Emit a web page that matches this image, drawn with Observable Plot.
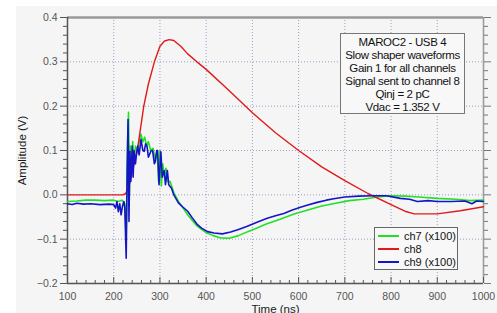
<!DOCTYPE html>
<html><head><meta charset="utf-8">
<script src="https://cdn.jsdelivr.net/npm/d3@7"></script>
<script src="https://cdn.jsdelivr.net/npm/@observablehq/plot@0.6"></script>
<style>
body{margin:0;background:#fff;}
#wrap{position:relative;width:497px;height:313px;overflow:hidden;background:linear-gradient(#f5f5f5,#f5f5f5) 16px 6px/481px 307px no-repeat,#fff;font-family:"Liberation Sans",Arial,sans-serif;}
#wrap svg{position:absolute;left:0;top:0;}
#wrap svg g[aria-label="y-axis label"], #wrap svg g[aria-label="x-axis label"]{fill:#1a1a1a;font-size:11.5px;}
.info{position:absolute;left:340px;top:33px;width:125px;height:81px;border:1px solid #777;background:#f8f8f8;font-size:11.5px;line-height:13px;text-align:center;color:#111;box-sizing:border-box;padding-top:2px;white-space:nowrap;letter-spacing:-0.35px;}
.legend{position:absolute;left:374px;top:227px;width:84px;height:43px;border:1px solid #666;background:#f8f8f8;font-size:11px;color:#111;box-sizing:border-box;padding-top:1px;white-space:nowrap;}
.legend .row{display:flex;align-items:center;height:13px;}
.legend .sw{width:21px;height:2px;margin-left:3px;margin-right:5px;flex:none;}
</style></head>
<body><div id="wrap"></div>
<script>
// ch8 (red)
const t8 = [100,220,226,233,240,251,258,265,275,288,300,310,320,330,345,360,380,400,450,500,550,600,650,700,750,800,830,850,900,950,1000];
const v8 = [0,0,0.003,0.02,0.05,0.1,0.15,0.2,0.25,0.3,0.335,0.347,0.35,0.348,0.335,0.318,0.3,0.283,0.235,0.185,0.14,0.1,0.063,0.032,0.003,-0.022,-0.037,-0.043,-0.043,-0.036,-0.027];
// ch7 (x100, green)
const t7 = [100,120,140,160,180,200,210,218,224,227,230,232,234,236,238,241,244,247,251,255,259,263,267,271,275,280,285,290,294,297,300,303,306,310,313,317,322,330,340,350,360,370,380,390,400,415,430,450,470,490,510,530,560,590,620,650,680,710,740,770,800,830,860,900,940,970,1000];
const v7 = [-0.015,-0.014,-0.012,-0.012,-0.013,-0.012,-0.015,-0.012,-0.02,-0.1,0.12,0.186,0.0,0.11,0.04,0.12,0.07,0.11,0.1,0.12,0.137,0.12,0.13,0.11,0.12,0.1,0.105,0.08,0.1,0.03,0.1,0.02,0.07,0.04,0.06,0.03,0.03,0.005,-0.015,-0.03,-0.045,-0.058,-0.07,-0.078,-0.085,-0.092,-0.097,-0.098,-0.092,-0.083,-0.075,-0.066,-0.055,-0.043,-0.034,-0.025,-0.019,-0.013,-0.01,-0.005,-0.002,-0.003,-0.005,-0.008,-0.01,-0.013,-0.012];
// ch9 (x100, blue)
const t9 = [100,110,120,135,150,170,190,200,204,207,210,213,216,219,222,224,227,229,231,233,235,237,240,242,244,247,249,252,255,259,263,266,269,272,275,277,281,284,288,290,293,295,298,302,305,309,312,316,319,325,330,340,350,360,370,380,390,403,417,435,453,470,489,510,532,550,568,585,604,620,640,660,676,700,730,760,790,820,840,857,880,900,930,960,975,985,1000];
const v9 = [-0.02,-0.022,-0.019,-0.021,-0.02,-0.022,-0.021,-0.022,-0.03,-0.015,-0.038,-0.02,-0.045,-0.025,-0.015,-0.03,-0.143,0.05,0.17,-0.06,0.098,0.03,0.11,0.04,0.1,0.07,0.09,0.11,0.09,0.125,0.1,0.098,0.115,0.11,0.085,0.09,0.1,0.1,0.07,0.075,0.1,0.1,0.023,0.097,0.04,0.055,0.023,0.055,0.023,0.015,0.0,-0.018,-0.028,-0.037,-0.052,-0.066,-0.075,-0.083,-0.086,-0.088,-0.084,-0.078,-0.071,-0.062,-0.053,-0.047,-0.042,-0.035,-0.028,-0.023,-0.017,-0.012,-0.009,-0.005,-0.003,-0.002,-0.002,-0.008,-0.01,-0.015,-0.013,-0.015,-0.015,-0.014,-0.02,-0.014,-0.015];

const xTicks = [100,200,300,400,500,600,700,800,900,1000];
const yTicks = [-0.2,-0.1,0.0,0.1,0.2,0.3,0.4];
const xMinor = d3.range(100,1001,20).filter(v => v % 100 !== 0);
const yMinor = d3.range(-10,21,1).map(v => v/50).filter(v => Math.round(v*50) % 5 !== 0);
const seriesNames = ["ch7 (x100)","ch8","ch9 (x100)"];
const seriesColors = ["#22e022","#e01a1a","#1515c8"];
const infoLines = ["MAROC2 - USB 4","Slow shaper waveforms","Gain 1 for all channels","Signal sent to channel 8","Qinj = 2 pC","Vdac = 1.352 V"];

const d7 = t7.map((t,i)=>({t, v:v7[i]}));
const d8 = t8.map((t,i)=>({t, v:v8[i]}));
const d9 = t9.map((t,i)=>({t, v:v9[i]}));

const chart = Plot.plot({
  width: 497, height: 313,
  marginLeft: 67, marginRight: 14, marginTop: 17, marginBottom: 30,
  style: {background: "transparent", fontFamily: "Liberation Sans, Arial, sans-serif", fontSize: "10.5px", overflow: "visible"},
  x: {domain: [100,1000]},
  y: {domain: [-0.2,0.4]},
  marks: [
    Plot.gridX(xTicks.slice(1,-1), {stroke: "#8888bb", strokeOpacity: 0.8, strokeDasharray: "1,2"}),
    Plot.gridY(yTicks.slice(1,-1), {stroke: "#8888bb", strokeOpacity: 0.8, strokeDasharray: "1,2"}),
    Plot.ruleY([0.4], {stroke: "#999", strokeWidth: 2.5}),
    Plot.ruleX([1000], {stroke: "#999", strokeWidth: 1.5}),
    Plot.ruleX([100], {stroke: "#555", strokeWidth: 1.5}),
    Plot.ruleY([-0.2], {stroke: "#555", strokeWidth: 1.5}),
    Plot.axisY(yTicks, {anchor: "left", tickSize: 7, tickPadding: 3, stroke: "#555", fill: "#555", tickFormat: d3.format(".1f"), label: "Amplitude (V)", labelAnchor: "center", labelOffset: 50, labelArrow: "none"}),
    Plot.axisY(yMinor, {anchor: "left", tickSize: 4, text: null, label: null, stroke: "#555"}),
    Plot.axisY(yTicks, {anchor: "right", tickSize: 7, text: null, label: null, stroke: "#777"}),
    Plot.axisY(yMinor, {anchor: "right", tickSize: 4, text: null, label: null, stroke: "#777"}),
    Plot.axisX(xTicks, {anchor: "bottom", tickSize: 0, tickPadding: 9, fill: "#555", tickFormat: d => String(d), label: "Time (ns)", labelAnchor: "center", labelOffset: 29, labelArrow: "none"}),
    Plot.axisX(xTicks, {anchor: "bottom", tickSize: -6, text: null, label: null, stroke: "#555"}),
    Plot.axisX(xMinor, {anchor: "bottom", tickSize: -3, text: null, label: null, stroke: "#555"}),
    Plot.line(d7, {x: "t", y: "v", stroke: seriesColors[0], strokeWidth: 1.6}),
    Plot.line(d8, {x: "t", y: "v", stroke: seriesColors[1], strokeWidth: 1.4}),
    Plot.line(d9, {x: "t", y: "v", stroke: seriesColors[2], strokeWidth: 1.6})
  ]
});
const wrap = document.getElementById("wrap");
wrap.appendChild(chart);

const info = document.createElement("div");
info.className = "info";
info.innerHTML = infoLines.map(s => `<div>${s}</div>`).join("");
wrap.appendChild(info);

const leg = document.createElement("div");
leg.className = "legend";
leg.innerHTML = seriesNames.map((s,i) => `<div class="row"><div class="sw" style="background:${seriesColors[i]}"></div><span>${s}</span></div>`).join("");
wrap.appendChild(leg);
</script></body></html>
